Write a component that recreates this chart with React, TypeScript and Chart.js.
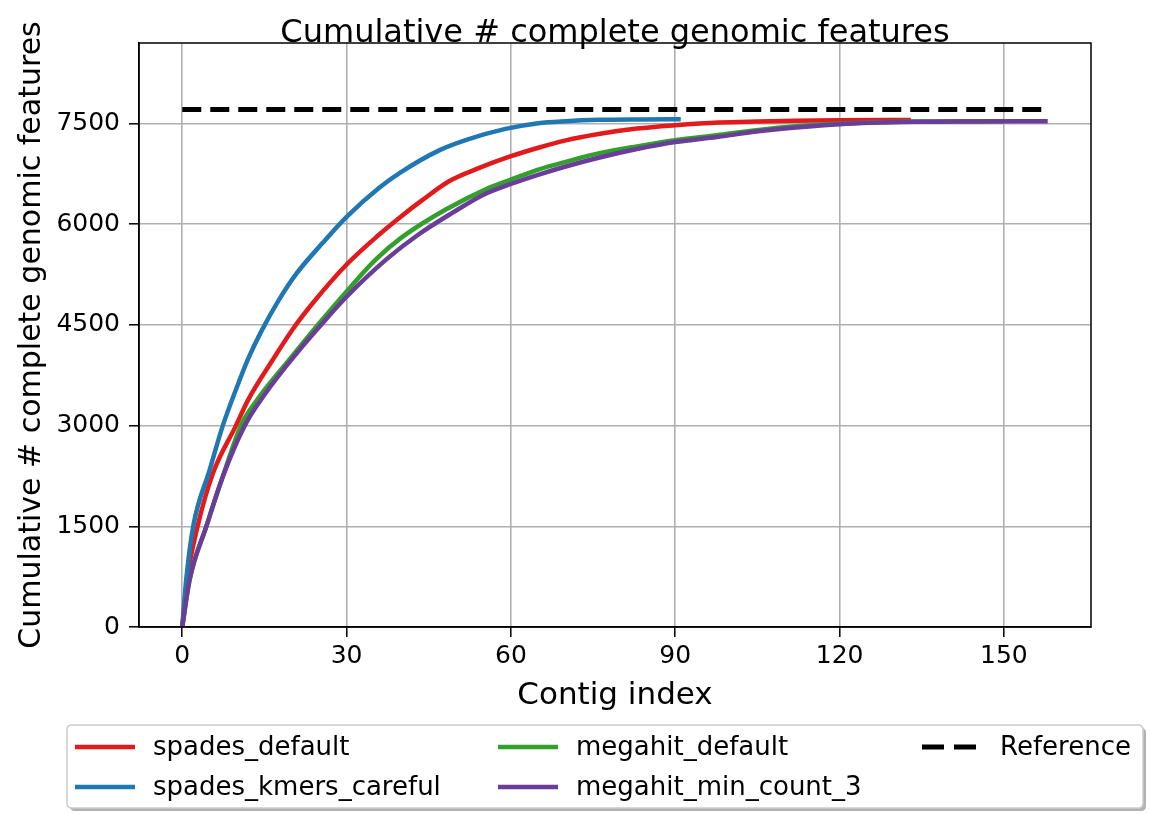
import React, { useEffect, useRef } from "react";
import { Chart, registerables } from "chart.js";

Chart.register(...registerables);

// Cumulative number of complete genomic features per assembly, by contig index
const seriesLabels = [
  "spades_default",
  "spades_kmers_careful",
  "megahit_default",
  "megahit_min_count_3",
];
const seriesColors = ["#e31a1c", "#1f78b4", "#33a02c", "#6a3d9a"];

const spadesDefaultX = [0, 0.85, 2.8, 5.6, 9.8, 12, 16.5, 20.2, 23.8, 30, 35.9, 39.6, 44, 48.7, 54, 60, 65, 70, 76, 83, 90, 98, 105, 112, 120, 133];
const spadesDefaultY = [0, 690, 1500, 2290, 3000, 3380, 3978, 4440, 4823, 5400, 5843, 6094, 6370, 6641, 6832, 7013, 7140, 7250, 7345, 7426, 7475, 7515, 7530, 7540, 7548, 7552];

const spadesCarefulX = [0, 0.7, 2, 5, 7.4, 10, 12, 14.4, 17.7, 20.8, 25.6, 30, 35.9, 40, 46.9, 52, 59, 65, 70, 76, 84, 91];
const spadesCarefulY = [0, 690, 1500, 2340, 3000, 3580, 3990, 4400, 4880, 5260, 5719, 6110, 6540, 6780, 7100, 7260, 7420, 7505, 7535, 7555, 7562, 7565];

const megahitDefaultX = [0, 1.3, 4.4, 7.4, 10.7, 14, 19.5, 25, 30, 35.3, 40, 48.1, 56, 60, 65, 70, 76, 83, 90, 97.6, 104.8, 112, 120, 133.6, 150];
const megahitDefaultY = [0, 690, 1500, 2240, 3000, 3420, 3978, 4525, 5000, 5473, 5800, 6219, 6542, 6666, 6815, 6930, 7055, 7160, 7252, 7327, 7401, 7460, 7500, 7530, 7535];

const megahitMinCountX = [0, 1.3, 4.4, 7.4, 11.4, 15, 21, 25, 30, 37.2, 43, 49.3, 55, 60, 65.1, 70, 76, 83, 90, 97.6, 104.8, 112, 120, 133.6, 145, 158];
const megahitMinCountY = [0, 690, 1500, 2240, 3000, 3460, 4090, 4470, 4920, 5473, 5840, 6169, 6440, 6600, 6740, 6860, 6990, 7120, 7225, 7300, 7380, 7440, 7490, 7525, 7532, 7535];

const referenceLabel = "Reference";
const referenceX = [0, 158];
const referenceY = [7710, 7710];

const xTicks = [0, 30, 60, 90, 120, 150];
const yTicks = [0, 1500, 3000, 4500, 6000, 7500];

const titleText = "Cumulative # complete genomic features";
const xTitle = "Contig index";
const yTitle = "Cumulative # complete genomic features";

const FONT = "'DejaVu Sans', 'Liberation Sans', sans-serif";

const toPoints = (xs: number[], ys: number[]) => xs.map((x, i) => ({ x, y: ys[i] }));

// Title, closed frame and a three-column legend under the axes
const decorPlugin = {
  id: "decor",
  afterDatasetsDraw(chart: any) {
    const { ctx, chartArea } = chart;
    const { left, right, top, bottom } = chartArea;
    ctx.save();
    ctx.strokeStyle = "#000";
    ctx.lineWidth = 1.5;
    ctx.strokeRect(left, top, right - left, bottom - top);
    ctx.restore();
  },
  afterDraw(chart: any) {
    const { ctx, chartArea } = chart;
    const cx = (chartArea.left + chartArea.right) / 2;
    ctx.save();
    ctx.fillStyle = "#000";
    ctx.font = `32px ${FONT}`;
    ctx.textAlign = "center";
    ctx.textBaseline = "alphabetic";
    ctx.fillText(titleText, cx, 42);

    // legend frame with soft shadow
    const bx = 67, by = 725, bw = 1076, bh = 83, r = 5;
    const roundRect = (x: number, y: number, w: number, h: number) => {
      ctx.beginPath();
      ctx.moveTo(x + r, y);
      ctx.lineTo(x + w - r, y);
      ctx.quadraticCurveTo(x + w, y, x + w, y + r);
      ctx.lineTo(x + w, y + h - r);
      ctx.quadraticCurveTo(x + w, y + h, x + w - r, y + h);
      ctx.lineTo(x + r, y + h);
      ctx.quadraticCurveTo(x, y + h, x, y + h - r);
      ctx.lineTo(x, y + r);
      ctx.quadraticCurveTo(x, y, x + r, y);
      ctx.closePath();
    };
    roundRect(bx + 3, by + 3, bw, bh);
    ctx.fillStyle = "rgba(0,0,0,0.3)";
    ctx.fill();
    roundRect(bx, by, bw, bh);
    ctx.fillStyle = "#fff";
    ctx.fill();
    ctx.strokeStyle = "#cccccc";
    ctx.lineWidth = 1.5;
    ctx.stroke();

    const datasets = chart.data.datasets;
    const colX = [75, 498, 922];
    const rowY = [747, 787];
    ctx.font = `26px ${FONT}`;
    ctx.textAlign = "left";
    ctx.textBaseline = "middle";
    datasets.forEach((ds: any, i: number) => {
      const col = Math.floor(i / 2);
      const row = i % 2;
      const x0 = colX[col];
      const y0 = rowY[row];
      ctx.beginPath();
      ctx.strokeStyle = ds.borderColor;
      ctx.lineWidth = ds.borderWidth;
      ctx.setLineDash(ds.borderDash ? [22, 10] : []);
      ctx.moveTo(x0, y0);
      ctx.lineTo(x0 + 60, y0);
      ctx.stroke();
      ctx.setLineDash([]);
      ctx.fillStyle = "#000";
      ctx.fillText(ds.label, x0 + 78, y0 + 1);
    });
    ctx.restore();
  },
};

export default function App() {
  const canvasRef = useRef<HTMLCanvasElement | null>(null);

  useEffect(() => {
    if (!canvasRef.current) return;
    const seriesX = [spadesDefaultX, spadesCarefulX, megahitDefaultX, megahitMinCountX];
    const seriesY = [spadesDefaultY, spadesCarefulY, megahitDefaultY, megahitMinCountY];
    const datasets: any[] = seriesLabels.map((label, i) => ({
      label,
      data: toPoints(seriesX[i], seriesY[i]),
      borderColor: seriesColors[i],
      backgroundColor: seriesColors[i],
      borderWidth: 4.5,
      pointRadius: 0,
      cubicInterpolationMode: "monotone",
      fill: false,
      order: 4 - i,
    }));
    datasets.push({
      label: referenceLabel,
      data: toPoints(referenceX, referenceY),
      borderColor: "#000",
      backgroundColor: "#000",
      borderWidth: 5,
      borderDash: [19, 9],
      pointRadius: 0,
      fill: false,
      order: 0,
    });

    const tickFont = { family: FONT, size: 25 };
    const chart = new Chart(canvasRef.current, {
      type: "line",
      data: { datasets },
      plugins: [decorPlugin],
      options: {
        animation: false,
        responsive: false,
        layout: { padding: { top: 43, right: 59, bottom: 98, left: 0 } },
        plugins: {
          legend: { display: false },
          title: { display: false },
          tooltip: { enabled: false },
        },
        scales: {
          x: {
            type: "linear",
            min: -7.9,
            max: 165.9,
            afterBuildTicks: (scale: any) => {
              scale.ticks = xTicks.map((v) => ({ value: v }));
            },
            afterFit: (scale: any) => {
              scale.height = 90;
            },
            grid: {
              color: "#b0b0b0",
              lineWidth: 1.6,
              drawTicks: true,
              tickLength: 10,
              tickColor: "#000",
              tickWidth: 1.5,
            },
            border: { display: true, color: "#000", width: 1.5 },
            ticks: {
              color: "#000",
              font: tickFont,
              padding: 4,
              callback: (v: any) => String(v),
            },
            title: {
              display: true,
              text: xTitle,
              color: "#000",
              font: { family: FONT, size: 31 },
              padding: { top: 0, bottom: 2 },
            },
          },
          y: {
            type: "linear",
            min: 0,
            max: 8700,
            afterBuildTicks: (scale: any) => {
              scale.ticks = yTicks.map((v) => ({ value: v }));
            },
            afterFit: (scale: any) => {
              scale.width = 139;
            },
            grid: {
              color: "#b0b0b0",
              lineWidth: 1.6,
              drawTicks: true,
              tickLength: 10,
              tickColor: "#000",
              tickWidth: 1.5,
            },
            border: { display: true, color: "#000", width: 1.5 },
            ticks: {
              color: "#000",
              font: tickFont,
              padding: 9,
              callback: (v: any) => String(v),
            },
            title: {
              display: true,
              text: yTitle,
              color: "#000",
              font: { family: FONT, size: 30 },
              padding: { top: 14, bottom: 0 },
            },
          },
        },
      },
    });
    return () => chart.destroy();
  }, []);

  return (
    <div style={{ position: "absolute", left: 0, top: 0, width: 1150, height: 815, background: "#fff" }}>
      <canvas ref={canvasRef} width={1150} height={815} style={{ width: 1150, height: 815, display: "block" }} />
    </div>
  );
}
